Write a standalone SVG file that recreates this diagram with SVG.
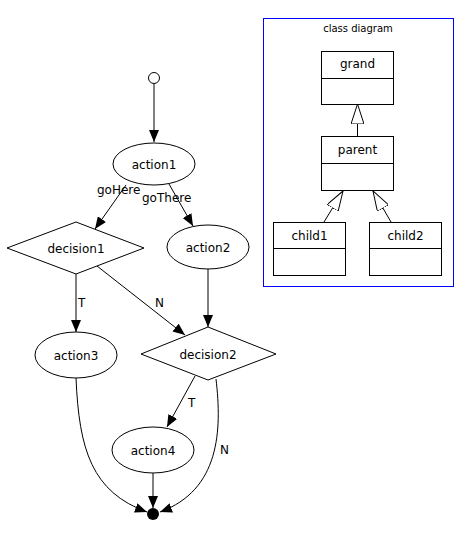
<svg xmlns="http://www.w3.org/2000/svg" width="469" height="539" viewBox="0 0 469 539">
<style>
text{font-family:"DejaVu Sans",sans-serif;font-size:12px;fill:#000}
.n{fill:#fff;stroke:#000;stroke-width:1}
.e{fill:none;stroke:#000;stroke-width:1}
.m{text-anchor:middle}
.t{font-size:10px}
</style>
<defs>
<marker id="ah" markerUnits="userSpaceOnUse" markerWidth="12" markerHeight="10" refX="12" refY="5" orient="auto" viewBox="0 0 12 10">
<path d="M0,0 L12,5 L0,10 z" fill="#000"/>
</marker>
<marker id="tri" markerUnits="userSpaceOnUse" markerWidth="20" markerHeight="13" refX="20" refY="6.5" orient="auto" viewBox="0 0 20 13">
<path d="M0,0 L20,6.5 L0,13 z" fill="#fff" stroke="#000" stroke-width="1"/>
</marker>
</defs>
<g id="connectors">
<path class="e" d="M154,84 L154,142" marker-end="url(#ah)"/>
<path class="e" d="M126,185 L95,229" marker-end="url(#ah)"/>
<path class="e" d="M169,184 L193,226" marker-end="url(#ah)"/>
<path class="e" d="M76,274 L76,332" marker-end="url(#ah)"/>
<path class="e" d="M97,266 L185,335" marker-end="url(#ah)"/>
<path class="e" d="M208,269 L208,327" marker-end="url(#ah)"/>
<path class="e" d="M195,376 L167,427" marker-end="url(#ah)"/>
<path class="e" d="M153,473 L153,508" marker-end="url(#ah)"/>
<path class="e" d="M76,378 C79,450 92,492 147,512" marker-end="url(#ah)"/>
<path class="e" d="M216,379 C222,430 220,490 160,512" marker-end="url(#ah)"/>
<text x="97" y="194">goHere</text>
<text x="142" y="202">goThere</text>
<text x="78" y="307">T</text>
<text x="155" y="307">N</text>
<text x="188" y="407">T</text>
<text x="220" y="454">N</text>
<path class="e" d="M357.5,136 L357.5,104" marker-end="url(#tri)"/>
<path class="e" d="M324,222 L343,191" marker-end="url(#tri)"/>
<path class="e" d="M391,222 L373,191" marker-end="url(#tri)"/>
</g>
<g id="start"><circle class="n" cx="154" cy="78" r="5.5"/></g>
<g id="action1"><ellipse class="n" cx="154" cy="164" rx="41" ry="21"/><text class="m" x="154" y="168.5">action1</text></g>
<g id="decision1"><polygon class="n" points="7,248 76,222 144,248 76,274"/><text class="m" x="76" y="252.5">decision1</text></g>
<g id="action2"><ellipse class="n" cx="208" cy="247" rx="41" ry="22"/><text class="m" x="208" y="251.5">action2</text></g>
<g id="action3"><ellipse class="n" cx="76" cy="355" rx="41" ry="23"/><text class="m" x="76" y="359.5">action3</text></g>
<g id="decision2"><polygon class="n" points="141,354 208,327 276,354 208,380"/><text class="m" x="208" y="358.5">decision2</text></g>
<g id="action4"><ellipse class="n" cx="153" cy="450" rx="41" ry="23"/><text class="m" x="153" y="454.5">action4</text></g>
<g id="end"><circle cx="153" cy="514" r="6" fill="#000"/></g>
<g id="classDiagram">
<rect x="263.5" y="18.5" width="190" height="268" fill="none" stroke="#00f" stroke-width="1"/>
<text class="m t" x="358" y="31.5">class diagram</text>
</g>
<g id="grand"><rect class="n" x="321.5" y="51.5" width="72" height="53"/><line class="e" x1="321.5" y1="78.5" x2="393.5" y2="78.5"/><text class="m" x="357.5" y="68">grand</text></g>
<g id="parent"><rect class="n" x="321.5" y="136.5" width="72" height="54"/><line class="e" x1="321.5" y1="163.5" x2="393.5" y2="163.5"/><text class="m" x="357.5" y="153.5">parent</text></g>
<g id="child1"><rect class="n" x="273.5" y="222.5" width="72" height="53"/><line class="e" x1="273.5" y1="248.5" x2="345.5" y2="248.5"/><text class="m" x="309.5" y="239.5">child1</text></g>
<g id="child2"><rect class="n" x="369.5" y="222.5" width="72" height="53"/><line class="e" x1="369.5" y1="248.5" x2="441.5" y2="248.5"/><text class="m" x="405.5" y="239.5">child2</text></g>
</svg>
